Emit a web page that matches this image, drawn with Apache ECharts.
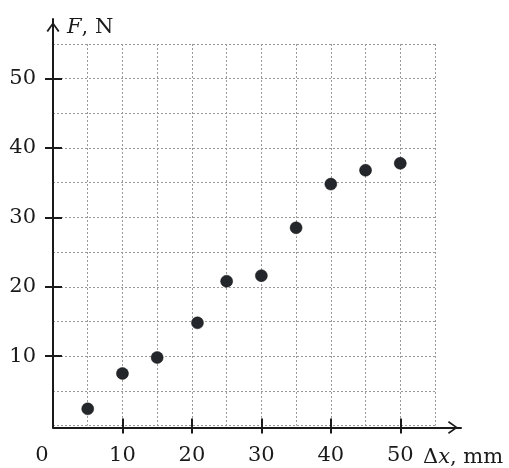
<!DOCTYPE html>
<html>
<head>
<meta charset="utf-8">
<script src="https://cdn.jsdelivr.net/npm/echarts@6/dist/echarts.min.js"></script>
<style>
html,body{margin:0;padding:0;background:#fff;}
#chart{width:509px;height:468px;}
</style>
</head>
<body>
<div id="chart"></div>
<script>
const xValues = [5, 10, 15, 20.8, 25, 30, 35, 40, 45, 50];
const yValues = [2.4, 7.5, 9.8, 14.8, 20.8, 21.6, 28.5, 34.8, 36.8, 37.8];
const tickValues = [10, 20, 30, 40, 50];
const xLabelValues = [0, 10, 20, 30, 40, 50];
const yLabelValues = [10, 20, 30, 40, 50];
const axisMax = 55;
const gridStep = 5;

const FONT = 'DejaVu Serif';
const TXT = '#1a1a1a';
const AX = '#1a1a1a';
const chevron = 'path://M10,0 L20,14 L17.6,15.4 L10,4.2 L2.4,15.4 L0,14 Z';

const points = xValues.map((x, i) => [x, yValues[i]]);

const chart = echarts.init(document.getElementById('chart'), null, {renderer: 'canvas'});
const gridSplit = {show: true, lineStyle: {color: '#999999', width: 1, type: [2, 2]}};
const richName = {
  n: {fontFamily: FONT, fontSize: 21, color: TXT},
  i: {fontFamily: FONT, fontSize: 21, color: TXT, fontStyle: 'italic'}
};

function tickAxis(kind, inside, len) {
  return {
    type: 'value', gridIndex: 0, min: 0, max: axisMax,
    position: kind === 'x' ? 'bottom' : 'left',
    axisLine: {show: false},
    axisTick: {show: true, inside: inside, customValues: tickValues, length: len, lineStyle: {color: AX, width: 2}},
    axisLabel: {show: false}, splitLine: {show: false}
  };
}

chart.setOption({
  animation: false,
  backgroundColor: '#fff',
  grid: [
    {left: 53, right: 74, top: 44, bottom: 40.5, containLabel: false},
    {left: 53, right: 48, top: 19, bottom: 40.5, containLabel: false}
  ],
  xAxis: [
    {
      type: 'value', gridIndex: 0, min: 0, max: axisMax, interval: gridStep,
      axisLine: {show: false},
      axisTick: {show: false},
      axisLabel: {
        show: true, margin: 20,
        fontFamily: FONT, fontSize: 21, color: TXT,
        formatter: v => xLabelValues.indexOf(v) < 0 ? '' : (v === 0 ? '{z|0}' : String(v)),
        rich: {z: {fontFamily: FONT, fontSize: 21, color: TXT, padding: [0, 22, 0, 0]}}
      },
      splitLine: gridSplit,
      name: '{n|Δ}{i|x}{n|, mm}',
      nameLocation: 'end', nameGap: -12,
      nameTextStyle: {align: 'left', verticalAlign: 'middle', padding: [64, 0, 0, 0], rich: richName}
    },
    tickAxis('x', false, 8),
    tickAxis('x', true, 7),
    {
      type: 'value', gridIndex: 1, min: 0, max: 1,
      axisLine: {show: true, onZero: false, symbol: ['none', chevron], symbolSize: [13, 16], symbolOffset: [0, -8],
        lineStyle: {color: AX, width: 2}},
      axisTick: {show: false}, axisLabel: {show: false}, splitLine: {show: false}
    }
  ],
  yAxis: [
    {
      type: 'value', gridIndex: 0, min: 0, max: axisMax, interval: gridStep,
      axisLine: {show: false},
      axisTick: {show: false},
      axisLabel: {
        show: true, margin: 17,
        fontFamily: FONT, fontSize: 21, color: TXT,
        formatter: v => yLabelValues.indexOf(v) < 0 ? '' : String(v)
      },
      splitLine: gridSplit,
      name: '{i|F}{n|, N}',
      nameLocation: 'end', nameGap: 16,
      nameTextStyle: {align: 'left', verticalAlign: 'middle', padding: [0, 0, 0, 14], rich: richName}
    },
    tickAxis('y', false, 8),
    tickAxis('y', true, 9),
    {
      type: 'value', gridIndex: 1, min: 0, max: 1,
      axisLine: {show: true, onZero: false, symbol: ['none', chevron], symbolSize: [13, 16], symbolOffset: [0, -8],
        lineStyle: {color: AX, width: 2}},
      axisTick: {show: false}, axisLabel: {show: false}, splitLine: {show: false}
    }
  ],
  series: [{
    type: 'scatter', xAxisIndex: 0, yAxisIndex: 0,
    data: points, symbolSize: 12,
    itemStyle: {color: '#23272b', borderColor: '#111', borderWidth: 0.5, opacity: 1},
    z: 5
  }]
});
</script>
</body>
</html>
